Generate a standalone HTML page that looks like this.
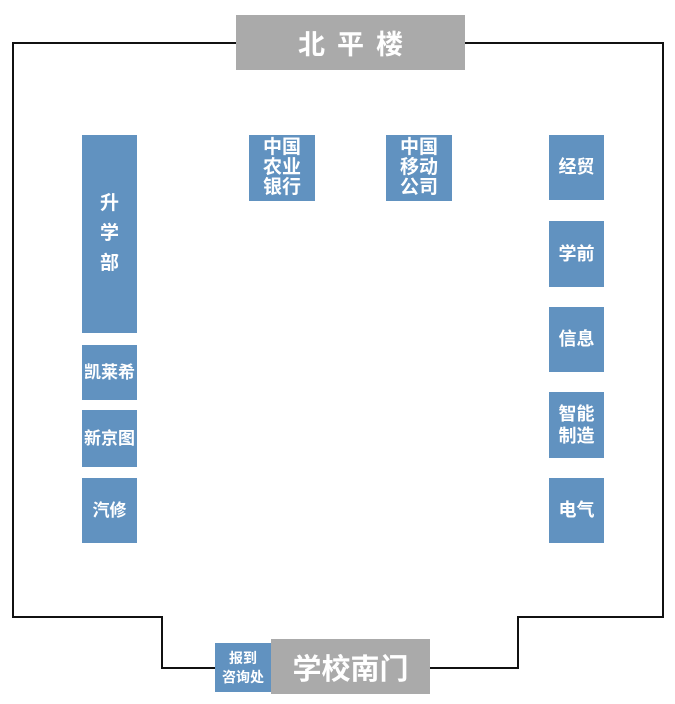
<!DOCTYPE html>
<html><head><meta charset="utf-8"><style>
body{margin:0;width:675px;height:704px;background:#fff;position:relative;overflow:hidden;font-family:"Liberation Sans","Noto Sans CJK SC",sans-serif}
.b{position:absolute;background:#6192c0;color:#fff;display:flex;align-items:center;justify-content:center;text-align:center;font-size:17px;font-weight:bold;line-height:19px}
.g{position:absolute;background:#aaaaaa;color:#fff;display:flex;align-items:center;justify-content:center;font-weight:bold}
</style></head><body>
<svg width="675" height="704" style="position:absolute;left:0;top:0">
<polyline points="236,43 13,43 13,617 162,617 162,668 216,668" fill="none" stroke="#111" stroke-width="2"/>
<polyline points="465,43 663,43 663,617 518,617 518,668 430,668" fill="none" stroke="#111" stroke-width="2"/>
</svg>
<div class="g" style="left:236px;top:15px;width:229px;height:55px;font-size:27px;letter-spacing:12px;padding-left:12px;box-sizing:border-box">北平楼</div>
<div class="b" style="left:82px;top:135px;width:55px;height:198px;font-size:19px;line-height:30px">升<br>学<br>部</div>
<div class="b" style="left:82px;top:345px;width:55px;height:55px">凯莱希</div>
<div class="b" style="left:82px;top:410px;width:55px;height:57px">新京图</div>
<div class="b" style="left:82px;top:478px;width:55px;height:65px">汽修</div>
<div class="b" style="left:249px;top:135px;width:66px;height:66px;font-size:19px;line-height:20px">中国<br>农业<br>银行</div>
<div class="b" style="left:386px;top:135px;width:66px;height:66px;font-size:19px;line-height:20px">中国<br>移动<br>公司</div>
<div class="b" style="left:549px;top:135px;width:55px;height:65px;font-size:18px">经贸</div>
<div class="b" style="left:549px;top:221px;width:55px;height:66px;font-size:18px">学前</div>
<div class="b" style="left:549px;top:307px;width:55px;height:65px;font-size:18px">信息</div>
<div class="b" style="left:549px;top:392px;width:55px;height:66px;font-size:18px;line-height:22px">智能<br>制造</div>
<div class="b" style="left:549px;top:478px;width:55px;height:65px;font-size:18px">电气</div>
<div class="b" style="left:215px;top:643px;width:56px;height:49px;font-size:14px;line-height:19px">报到<br>咨询处</div>
<div class="g" style="left:271px;top:639px;width:159px;height:55px;font-size:29px">学校南门</div>
</body></html>
